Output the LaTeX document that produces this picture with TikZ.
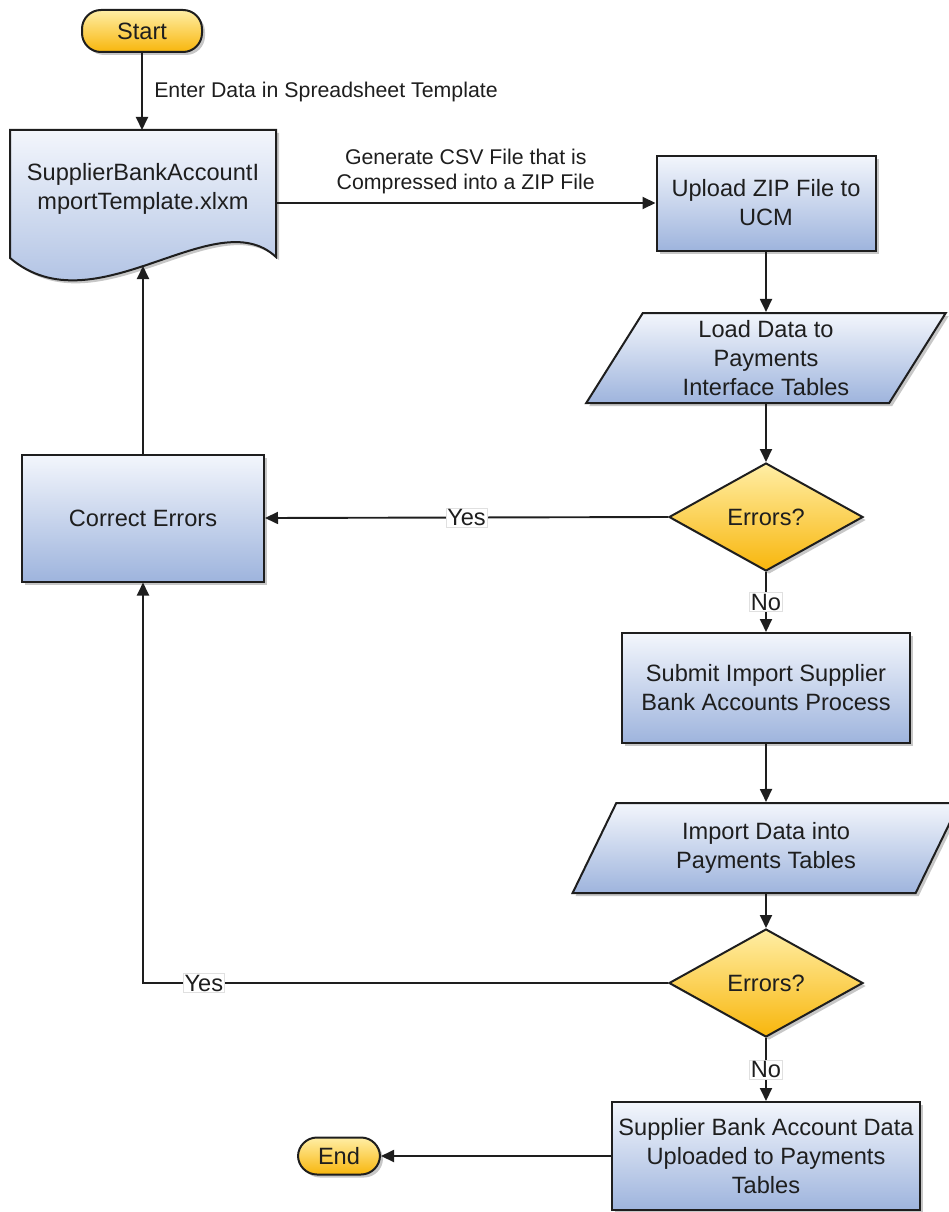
\documentclass[tikz,border=0pt]{standalone}
\usepackage{fontspec}
\setmainfont{Liberation Sans}
\usetikzlibrary{arrows.meta, shapes.geometric, shadows}

\definecolor{boxtop}{RGB}{243,246,252}
\definecolor{boxbot}{RGB}{158,180,221}
\definecolor{goldtop}{RGB}{255,238,165}
\definecolor{goldbot}{RGB}{248,182,12}
\definecolor{edge}{RGB}{30,30,30}

\begin{document}
\begin{tikzpicture}[x=1pt, y=-1pt,
  every node/.style={font=\fontsize{23.6}{29}\selectfont, align=center, text=edge},
  flow/.style={line width=1.9pt, draw=edge, -{Triangle[length=13pt,width=12pt]}},
  shadowed/.style={drop shadow={shadow xshift=3pt, shadow yshift=-3pt, fill=black, opacity=0.22}},
  bluebox/.style={draw=edge, line width=2pt, top color=boxtop, bottom color=boxbot, shadowed},
  goldbox/.style={draw=edge, line width=2pt, top color=goldtop, bottom color=goldbot, shadowed},
  process/.style={rectangle, bluebox, inner sep=2pt},
  dataio/.style={trapezium, trapezium left angle=63.4, trapezium right angle=116.6,
    trapezium stretches=true, minimum height=90pt, inner sep=1pt, bluebox},
  decision/.style={diamond, goldbox, inner sep=0pt, minimum width=194pt, minimum height=108pt},
  terminal/.style={rectangle, rounded corners=19pt, goldbox, inner sep=0pt},
  lbl/.style={font=\fontsize{21.3}{25}\selectfont},
  answer/.style={fill=white, draw=black!12, line width=0.5pt, inner sep=1.5pt}
]
\useasboundingbox (0,0) rectangle (949,1212);
\clip (0,0) rectangle (949,1212);

\node[terminal, minimum width=120pt, minimum height=42pt] (start) at (142,31) {Start};

\path[bluebox] (10,130) -- (276,130) -- (276,257)
  .. controls (215,200) and (95,330) .. (10,258) -- cycle;
\node (tmpl) at (143,189) {SupplierBankAccountI\\mportTemplate.xlxm};
\coordinate (tmpl-n) at (142,130);
\coordinate (tmpl-e) at (276,203);
\coordinate (tmpl-s) at (143,266);

\node[process, minimum width=219pt, minimum height=95pt] (upload) at (766,203) {Upload ZIP File to\\UCM};
\node[dataio, minimum width=360pt] (load) at (766,358) {Load Data to\\Payments\\Interface Tables};
\node[decision] (err1) at (766,517) {Errors?};
\node[process, minimum width=242pt, minimum height=127pt] (fix) at (143,518) {Correct Errors};
\node[process, minimum width=288pt, minimum height=110pt] (submit) at (766,688) {Submit Import Supplier\\Bank Accounts Process};
\node[dataio, minimum width=387pt] (imp) at (766,848) {Import Data into\\Payments Tables};
\node[decision] (err2) at (766,983) {Errors?};
\node[process, minimum width=308pt, minimum height=108pt] (done) at (766,1156) {Supplier Bank Account Data\\Uploaded to Payments\\Tables};
\node[terminal, minimum width=82pt, minimum height=37pt] (end) at (339,1156) {End};

\draw[flow] (start.south) -- node[lbl, right=8pt, pos=0.5]{Enter Data in Spreadsheet Template} (tmpl-n);
\draw[flow] (tmpl-e) -- node[lbl, above=5pt]{Generate CSV File that is\\Compressed into a ZIP File} (upload.west);
\draw[flow] (upload.south) -- (load.north);
\draw[flow] (load.south) -- (err1.north);
\draw[flow] (err1.west) -- node[answer]{Yes} (fix.east);
\draw[flow] (fix.north) -- (tmpl-s);
\draw[flow] (err1.south) -- node[answer]{No} (submit.north);
\draw[flow] (submit.south) -- (imp.north);
\draw[flow] (imp.south) -- (err2.north);
\draw[flow] (err2.west) -| node[answer, pos=0.442]{Yes} (fix.south);
\draw[flow] (err2.south) -- node[answer]{No} (done.north);
\draw[flow] (done.west) -- (end.east);
\end{tikzpicture}
\end{document}
